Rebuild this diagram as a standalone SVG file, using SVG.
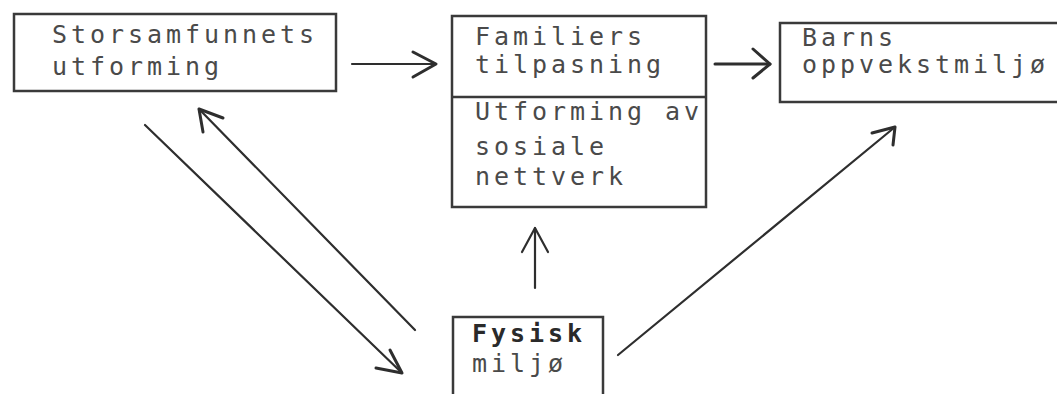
<svg xmlns="http://www.w3.org/2000/svg" width="1057" height="394" viewBox="0 0 1057 394">
<style>
.box{fill:none;stroke:#3a3a3a;stroke-width:2.5}
.t{font-family:"DejaVu Sans Mono","Liberation Mono",monospace;font-size:25px;letter-spacing:3.95px;fill:#4a4a4a}
.b{font-weight:bold;fill:#2a2a2a}
.c{fill:none;stroke:#2e2e2e;stroke-width:2.2;stroke-linecap:round;stroke-linejoin:round}
.h{stroke-width:3}
</style>
<rect width="1057" height="394" fill="#ffffff"/>
<g id="storsamfunnet">
<rect class="box" x="14" y="14" width="322" height="77"/>
<text class="t" x="52" y="43">Storsamfunnets</text>
<text class="t" x="52" y="75">utforming</text>
</g>
<g id="familier">
<rect class="box" x="452" y="16" width="254" height="191"/>
<line class="box" x1="452" y1="97" x2="706" y2="97"/>
<text class="t" x="475" y="45">Familiers</text>
<text class="t" x="475" y="73">tilpasning</text>
<text class="t" x="475" y="120">Utforming av</text>
<text class="t" x="475" y="155">sosiale</text>
<text class="t" x="475" y="185">nettverk</text>
</g>
<g id="barns">
<rect class="box" x="780" y="23" width="290" height="79"/>
<text class="t" x="802" y="46">Barns</text>
<text class="t" x="802" y="73">oppvekstmiljø</text>
</g>
<g id="fysisk">
<rect class="box" x="453" y="317" width="150" height="90"/>
<text class="t b" x="472" y="342">Fysisk</text>
<text class="t" x="472" y="372">miljø</text>
</g>
<g id="connectors">
<line class="c" x1="352" y1="64" x2="436" y2="64"/>
<polyline class="c h" points="413,52 436,64 413,77"/>
<line class="c h" x1="715" y1="64" x2="770" y2="64"/>
<polyline class="c h" points="753,49 770,64 753,78"/>
<line class="c" x1="535" y1="288" x2="535" y2="228"/>
<polyline class="c" points="522,252 535,228 548,252"/>
<line class="c" x1="145" y1="125" x2="402" y2="373"/>
<polyline class="c h" points="390,350 402,373 376,368"/>
<line class="c" x1="415" y1="330" x2="199" y2="109"/>
<polyline class="c h" points="203,132 199,109 223,118"/>
<line class="c" x1="618" y1="355" x2="895" y2="127"/>
<polyline class="c h" points="872,133 895,127 893,145"/>
</g>
</svg>
